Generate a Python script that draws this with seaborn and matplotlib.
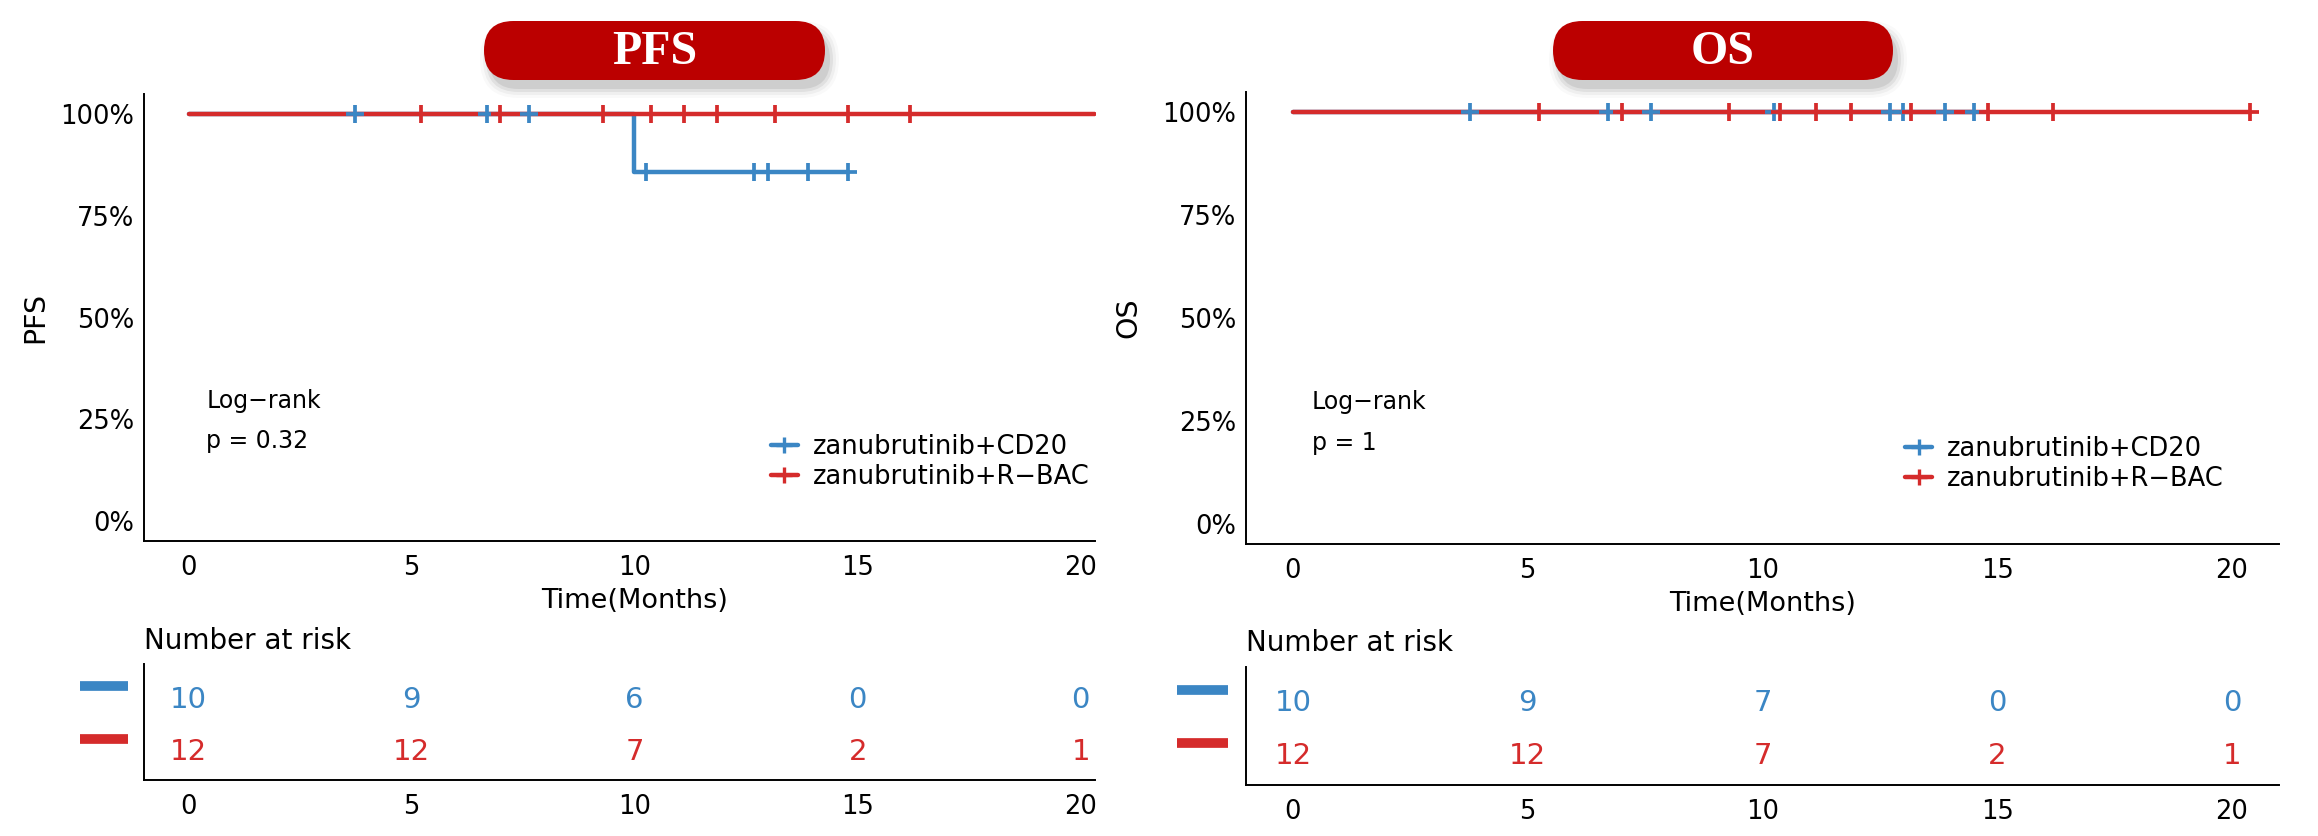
import numpy as np
import pandas as pd
import seaborn as sns
import matplotlib.pyplot as plt
from matplotlib.lines import Line2D
from matplotlib.patches import FancyBboxPatch
from matplotlib.transforms import Bbox, TransformedBbox, blended_transform_factory

# ---- data ----
groups = ['zanubrutinib+CD20', 'zanubrutinib+R\u2212BAC']
colors = ['#3B86C4', '#D52B2B']

# PFS: follow-up times (months) and event flags (1 = progression)
pfs_cd20_time = [3.74, 6.69, 7.62, 9.98, 10.25, 12.67, 12.98, 13.89, 14.78, 14.78]
pfs_cd20_event = [0, 0, 0, 1, 0, 0, 0, 0, 0, 0]
pfs_rbac_time = [5.22, 6.99, 6.99, 9.29, 9.29, 10.36, 11.11, 11.85, 13.14, 14.78, 16.18, 20.39]
pfs_rbac_event = [0, 0, 0, 0, 0, 0, 0, 0, 0, 0, 0, 0]

# OS
os_cd20_time = [3.76, 6.71, 7.63, 10.24, 12.71, 13.0, 13.89, 14.51, 14.51, 14.51]
os_cd20_event = [0, 0, 0, 0, 0, 0, 0, 0, 0, 0]
os_rbac_time = [5.23, 7.0, 7.0, 9.29, 9.29, 10.37, 11.13, 11.88, 13.16, 14.81, 16.19, 20.39]
os_rbac_event = [0, 0, 0, 0, 0, 0, 0, 0, 0, 0, 0, 0]

# number at risk
risk_times = [0, 5, 10, 15, 20]
pfs_risk_cd20 = [10, 9, 6, 0, 0]
pfs_risk_rbac = [12, 12, 7, 2, 1]
os_risk_cd20 = [10, 9, 7, 0, 0]
os_risk_rbac = [12, 12, 7, 2, 1]

pfs_p = 'p = 0.32'
os_p = 'p = 1'


def km(times, events):
    df = pd.DataFrame({'time': times, 'event': events}).sort_values('time')
    surv = 1.0
    steps = [(0.0, 1.0)]
    cens = []
    for t, g in df.groupby('time'):
        n = (df['time'] >= t).sum()
        d = g['event'].sum()
        if d:
            surv *= 1 - d / n
        steps.append((t, surv))
        if (g['event'] == 0).any():
            cens.append((t, surv))
    return (pd.DataFrame(steps, columns=['time', 'surv']),
            pd.DataFrame(cens, columns=['time', 'surv']))


sns.set_style('white')
plt.rcParams['font.family'] = ['DejaVu Sans']
for k in ['text.color', 'axes.labelcolor', 'xtick.color', 'ytick.color']:
    plt.rcParams[k] = 'black'

W, H = 2318, 836
fig = plt.figure(figsize=(W / 100, H / 100), dpi=100)


def rect(x0, y0, x1, y1):
    return [x0 / W, 1 - y1 / H, (x1 - x0) / W, (y1 - y0) / H]


def style_axis(ax):
    for s in ['top', 'right']:
        ax.spines[s].set_visible(False)
    for s in ['left', 'bottom']:
        ax.spines[s].set_linewidth(1.4)
        ax.spines[s].set_color('black')


def draw_panel(km_box, risk_box, xmax, ylab, p_text, series, risk, clip=False):
    ax = fig.add_axes(rect(*km_box))
    for (t, e), c in zip(series, colors):
        steps, _ = km(t, e)
        sns.lineplot(data=steps, x='time', y='surv', ax=ax, color=c, lw=3.2,
                     drawstyle='steps-post', estimator=None, sort=False)
    for (t, e), c in zip(series, colors):
        _, cens = km(t, e)
        sns.scatterplot(data=cens, x='time', y='surv', ax=ax, color=c,
                        marker='+', s=170, linewidth=2.7, zorder=5)
    ax.set_xlim(-1, xmax)
    ax.set_ylim(-0.049, 1.049)
    ax.set_xticks([0, 5, 10, 15, 20])
    ax.set_yticks([0, 0.25, 0.5, 0.75, 1.0])
    ax.set_yticklabels(['0%', '25%', '50%', '75%', '100%'])
    ax.tick_params(axis='y', labelsize=18.5, length=4, width=1.3, color='black', pad=3)
    ax.tick_params(axis='x', labelsize=18.5, length=4, width=1.3, color='black', pad=6)
    style_axis(ax)
    ax.set_xlabel('Time(Months)', fontsize=19.5)
    ax.set_ylabel(ylab, fontsize=20.5)
    ax.xaxis.set_label_coords((10 + 1) / (xmax + 1) if clip else 0.5, -0.105)
    ax.yaxis.set_label_coords(-0.10, 0.5)
    ax.text(0.4, 0.296, 'Log\u2212rank', fontsize=17, ha='left', va='center')
    ax.text(0.4, 0.196, p_text, fontsize=17, ha='left', va='center')
    handles = [Line2D([], [], color=c, lw=3.2, marker='+', ms=11, mew=2.4) for c in colors]
    x_leg = (771 - km_box[0]) / (km_box[2] - km_box[0]) if clip else 0.638
    ax.legend(handles, groups, loc='upper left', bbox_to_anchor=(x_leg, 0.24),
              frameon=False, fontsize=18.5, handlelength=1.05, handletextpad=0.58,
              labelspacing=0.18, borderpad=0, borderaxespad=0)

    rx = fig.add_axes(rect(*risk_box))
    for i, (vals, c) in enumerate(zip(risk, colors)):
        yrow = 1 - i
        for t, v in zip(risk_times, vals):
            rx.text(t, yrow, str(v), color=c, fontsize=21, ha='center', va='center')
    rx.set_xlim(-1, xmax)
    rx.set_ylim(-0.54, 1.68)
    rx.set_xticks([0, 5, 10, 15, 20])
    rx.set_yticks([])
    rx.tick_params(axis='x', labelsize=18.5, length=4, width=1.3, color='black', pad=6)
    style_axis(rx)
    tr = blended_transform_factory(rx.transAxes, rx.transData)
    for i, c in enumerate(colors):
        rx.plot([-0.067, -0.017], [1 - i + 0.25] * 2, color=c, lw=7, transform=tr,
                clip_on=False, solid_capstyle='butt')
    rx.text(0, 1.20, 'Number at risk', fontsize=20, ha='left', va='center',
            transform=rx.transAxes)

    if clip:
        for a in (ax, rx):
            cb = TransformedBbox(Bbox([[-0.3, -1.0], [1.003, 1.2]]), a.transAxes)
            for lbl in a.get_xticklabels():
                lbl.set_clip_box(cb)
                lbl.set_clip_on(True)
    return ax, rx


draw_panel((144, 94, 1095, 541), (144, 664, 1095, 780), 20.32, 'PFS', pfs_p,
           [(pfs_cd20_time, pfs_cd20_event), (pfs_rbac_time, pfs_rbac_event)],
           [pfs_risk_cd20, pfs_risk_rbac], clip=True)
draw_panel((1246, 92, 2279, 544), (1246, 667, 2279, 785), 21, 'OS', os_p,
           [(os_cd20_time, os_cd20_event), (os_rbac_time, os_rbac_event)],
           [os_risk_cd20, os_risk_rbac])

# title badges
ov = fig.add_axes([0, 0, 1, 1])
ov.set_xlim(0, W)
ov.set_ylim(H, 0)
ov.axis('off')
for x0, x1, label in [(484, 825, 'PFS'), (1553, 1893, 'OS')]:
    y0, y1 = 21, 80
    r = (y1 - y0) / 2
    for pad, a in [(9, 0.025), (6, 0.04), (3, 0.06), (0, 0.08)]:
        ov.add_patch(FancyBboxPatch((x0 + 5 - pad, y0 + 9 - pad), x1 - x0 + 2 * pad,
                                    y1 - y0 + 2 * pad,
                                    boxstyle=f'round,pad=0,rounding_size={r + pad}',
                                    fc='black', ec='none', alpha=a))
    ov.add_patch(FancyBboxPatch((x0, y0), x1 - x0, y1 - y0,
                                boxstyle=f'round,pad=0,rounding_size={r}',
                                fc='#BB0000', ec='none'))
    ov.text((x0 + x1) / 2, (y0 + y1) / 2 + 1, label, color='white', fontsize=34.5,
            fontweight='bold', family=['Liberation Serif', 'DejaVu Serif'],
            ha='center', va='center')

fig.savefig('out.png', dpi=100)
